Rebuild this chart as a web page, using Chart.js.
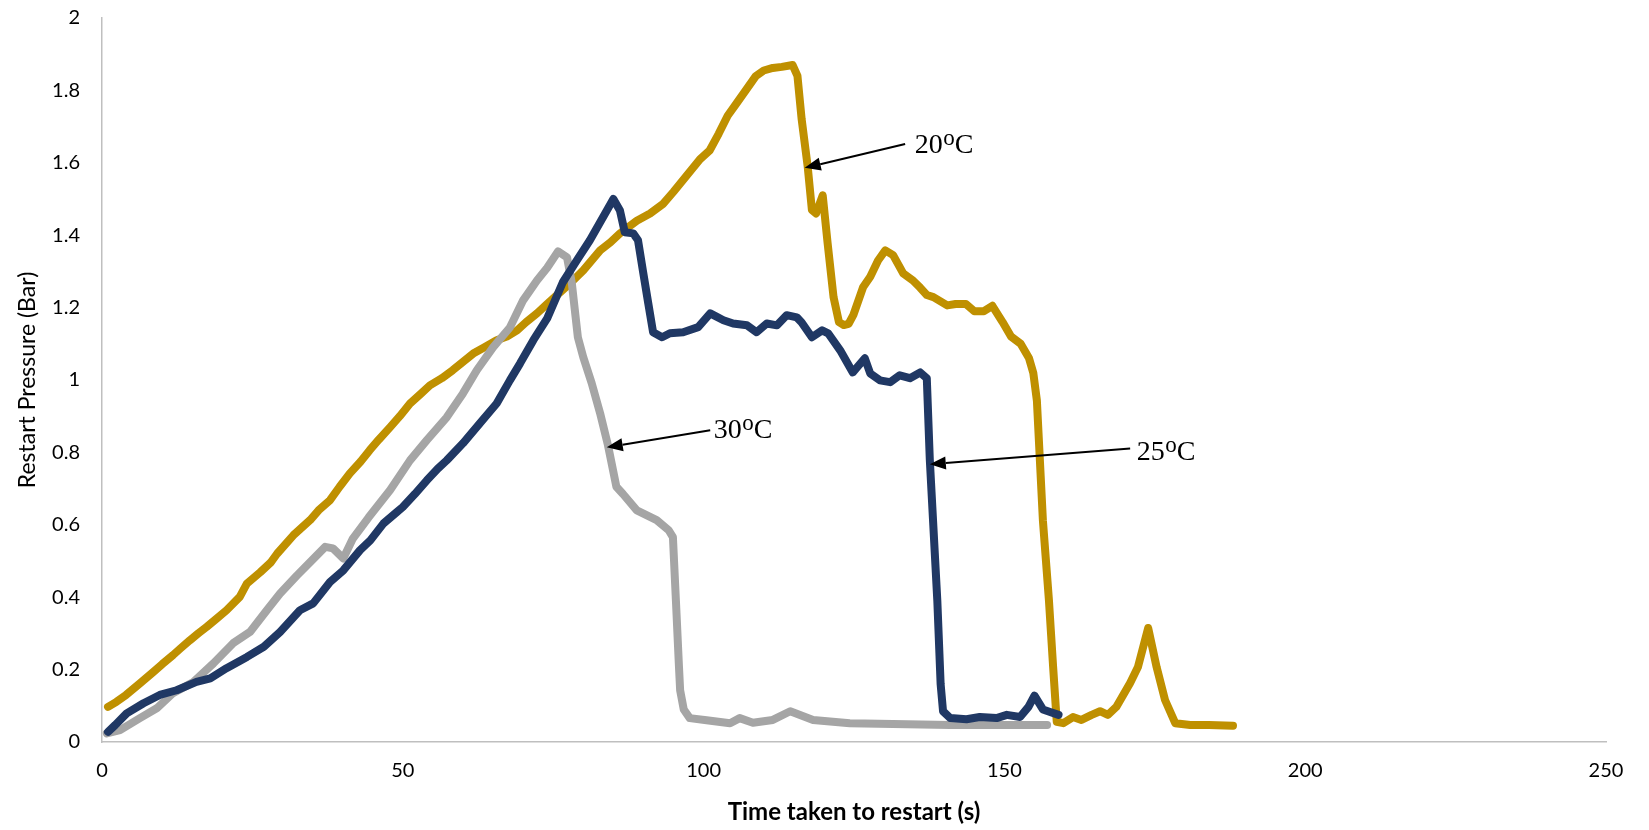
<!DOCTYPE html>
<html>
<head>
<meta charset="utf-8">
<title>Restart pressure vs time</title>
<script src="https://cdn.jsdelivr.net/npm/chart.js@4/dist/chart.umd.min.js"></script>
<style>
  html, body { margin: 0; padding: 0; background: #ffffff; }
  canvas { display: block; }
</style>
</head>
<body>
<canvas id="chart" width="1649" height="830"></canvas>
<script>
// Restart pressure traces (Bar) against time (s) for three temperatures.
const time20 = [1, 2.4, 4, 6.3, 8.5, 10, 11.8, 13, 14.6, 16,
  17.4, 19, 20.7, 22.9, 24.1, 26.3, 28, 29.1, 31.8, 34.6,
  36, 37.9, 39.5, 41.2, 43, 44.5, 46, 47.9, 49.5, 51.2,
  53, 54.5, 56.5, 58.3, 60, 61.7, 63.5, 65.6, 67.3, 69,
  70.5, 72.3, 74, 75.6, 78, 80, 82.8, 84.5, 86.1, 88.9,
  91.1, 93.3, 95, 97.2, 99.4, 101, 102.5, 104, 105.5, 107,
  108.7, 110, 111.5, 113, 114.8, 115.6, 116.3, 117.3, 118, 118.7,
  119.8, 120.6, 121.6, 122.5, 123.3, 124.1, 124.9, 126.5, 127.7, 129,
  130.2, 131.5, 133.2, 134.8, 136, 137.1, 138.2, 140.5, 141.9, 143.6,
  145, 146.6, 148, 149.7, 151.1, 152.7, 154.1, 154.8, 155.4, 156.4,
  157.4, 158.1, 158.7, 159.8, 161.4, 162.8, 164.5, 165.9, 167.2, 168.6,
  170.9, 172.2, 173.9, 175.3, 176.7, 178.4, 180.9, 184, 188];
const pressure20 = [0.097, 0.111, 0.13, 0.162, 0.193, 0.215, 0.24, 0.258, 0.281, 0.3,
  0.318, 0.34, 0.364, 0.401, 0.438, 0.469, 0.495, 0.52, 0.571, 0.613,
  0.64, 0.668, 0.705, 0.742, 0.775, 0.806, 0.835, 0.87, 0.9, 0.935,
  0.962, 0.985, 1.005, 1.027, 1.05, 1.073, 1.09, 1.11, 1.12, 1.137,
  1.16, 1.184, 1.21, 1.234, 1.27, 1.303, 1.358, 1.38, 1.405, 1.44,
  1.46, 1.487, 1.52, 1.565, 1.61, 1.634, 1.68, 1.73, 1.765, 1.8,
  1.84, 1.855, 1.862, 1.865, 1.87, 1.84, 1.72, 1.59, 1.47, 1.46,
  1.51, 1.38, 1.229, 1.16, 1.152, 1.155, 1.18, 1.256, 1.285, 1.33,
  1.358, 1.345, 1.294, 1.275, 1.255, 1.235, 1.229, 1.206, 1.21, 1.21,
  1.19, 1.19, 1.205, 1.16, 1.12, 1.1, 1.06, 1.02, 0.943, 0.612,
  0.392, 0.207, 0.056, 0.052, 0.069, 0.061, 0.075, 0.085, 0.075, 0.097,
  0.163, 0.207, 0.315, 0.207, 0.116, 0.052, 0.047, 0.047, 0.045];

const time25 = [1, 2.2, 4.1, 6.9, 9.6, 12.4, 15.7, 18, 20.7, 24.1,
  26.9, 29.6, 32.9, 35.1, 37.9, 40.1, 42.9, 44.6, 46.8, 49,
  50, 52, 54, 55.8, 57.3, 60, 62.8, 65.6, 67.8, 69.5,
  71.7, 74, 76.6, 78.9, 81.1, 83.3, 85, 86.1, 86.9, 88.3,
  89.1, 89.9, 90.8, 91.6, 93.1, 94.4, 96.6, 99.1, 101.1, 103.3,
  104.9, 107.2, 108.8, 110.5, 112.2, 113.8, 115.5, 116.3, 118, 119.7,
  120.7, 122.7, 124.8, 126.8, 127.7, 129.3, 131, 132.6, 134.3, 136,
  137.1, 137.6, 138.85, 139.4, 139.8, 141, 143.7, 145.9, 148.7, 150.4,
  152.6, 154, 155, 156.4, 157.6, 159];
const pressure25 = [0.028, 0.047, 0.079, 0.107, 0.13, 0.143, 0.166, 0.176, 0.204, 0.235,
  0.263, 0.304, 0.364, 0.383, 0.442, 0.474, 0.53, 0.557, 0.604, 0.635,
  0.649, 0.685, 0.723, 0.755, 0.778, 0.825, 0.88, 0.935, 0.999, 1.046,
  1.11, 1.17, 1.27, 1.33, 1.386, 1.45, 1.5, 1.468, 1.408, 1.405,
  1.386, 1.303, 1.212, 1.132, 1.118, 1.129, 1.132, 1.146, 1.184, 1.165,
  1.156, 1.151, 1.132, 1.156, 1.151, 1.179, 1.173, 1.159, 1.118, 1.137,
  1.129, 1.082, 1.021, 1.06, 1.018, 0.999, 0.994, 1.013, 1.005, 1.021,
  1.005, 0.78, 0.39, 0.16, 0.085, 0.066, 0.063, 0.069, 0.066, 0.075,
  0.069, 0.097, 0.128, 0.09, 0.083, 0.075];

const time30 = [0.8, 3, 6.3, 9.1, 11.8, 15.2, 18.5, 21.8, 24.6, 27.4,
  29.6, 32.4, 34.6, 37.1, 38.4, 40.1, 41.7, 44.3, 47.9, 51.2,
  54, 57.3, 60, 62.3, 65, 67.8, 70, 72.3, 74, 75.8,
  77.3, 78.1, 79.1, 80, 81.4, 82.8, 84.1, 85.5, 86.6, 88.9,
  92.2, 94.2, 94.9, 95.4, 95.9, 96.1, 96.7, 97.7, 100.5, 104.4,
  106, 108.2, 111.5, 114.4, 118.2, 124.3, 141, 157.1];
const pressure30 = [0.024, 0.033, 0.066, 0.093, 0.135, 0.166, 0.217, 0.273, 0.304, 0.364,
  0.41, 0.46, 0.497, 0.539, 0.535, 0.507, 0.562, 0.62, 0.696, 0.778,
  0.834, 0.897, 0.963, 1.027, 1.09, 1.145, 1.22, 1.275, 1.31, 1.355,
  1.339, 1.267, 1.118, 1.063, 0.991, 0.908, 0.82, 0.705, 0.685, 0.64,
  0.613, 0.585, 0.566, 0.39, 0.21, 0.143, 0.09, 0.066, 0.06, 0.052,
  0.066, 0.053, 0.061, 0.085, 0.061, 0.052, 0.047, 0.047];

const seriesNames = ['20ºC', '25ºC', '30ºC'];
const xTicks = { min: 0, max: 250, step: 50 };
const yTicks = { min: 0, max: 2, step: 0.2 };

const toPoints = (ts, ps) => ts.map((t, i) => ({ x: t, y: ps[i] }));

// Callout arrows with their labels, placed in axis units (time, pressure).
const callouts = [
  { text: '20ºC', tail: [133.5, 1.652], tip: [116.8, 1.586], at: [135.1, 1.628] },
  { text: '30ºC', tail: [101.1, 0.861], tip: [83.9, 0.814], at: [101.7, 0.839] },
  { text: '25ºC', tail: [170.9, 0.811], tip: [137.6, 0.767], at: [172.0, 0.778] }
];

const calloutPlugin = {
  id: 'callouts',
  afterDatasetsDraw(chart) {
    const { ctx, scales: { x, y } } = chart;
    ctx.save();
    ctx.strokeStyle = '#000';
    ctx.fillStyle = '#000';
    for (const c of callouts) {
      const x1 = x.getPixelForValue(c.tail[0]), y1 = y.getPixelForValue(c.tail[1]);
      const x2 = x.getPixelForValue(c.tip[0]), y2 = y.getPixelForValue(c.tip[1]);
      const ang = Math.atan2(y2 - y1, x2 - x1);
      const head = 16, half = 6.5;
      const bx = x2 - head * Math.cos(ang), by = y2 - head * Math.sin(ang);
      ctx.lineWidth = 2;
      ctx.beginPath();
      ctx.moveTo(x1, y1);
      ctx.lineTo(bx, by);
      ctx.stroke();
      ctx.beginPath();
      ctx.moveTo(x2, y2);
      ctx.lineTo(bx + half * Math.sin(ang), by - half * Math.cos(ang));
      ctx.lineTo(bx - half * Math.sin(ang), by + half * Math.cos(ang));
      ctx.closePath();
      ctx.fill();

      // label: number, raised "o", then "C"
      let tx = x.getPixelForValue(c.at[0]);
      const ty = y.getPixelForValue(c.at[1]);
      const [num, unit] = c.text.split('º');
      ctx.textAlign = 'left';
      ctx.textBaseline = 'alphabetic';
      ctx.font = '28px "Liberation Serif", "Times New Roman", serif';
      ctx.fillText(num, tx, ty);
      tx += ctx.measureText(num).width;
      ctx.font = '23px "Liberation Serif", "Times New Roman", serif';
      ctx.fillText('o', tx + 0.5, ty - 8);
      tx += ctx.measureText('o').width + 0.5;
      ctx.font = '28px "Liberation Serif", "Times New Roman", serif';
      ctx.fillText(unit, tx, ty);
    }
    ctx.restore();
  }
};

const lineStyle = (color) => ({
  borderColor: color,
  backgroundColor: color,
  borderWidth: 8,
  pointRadius: 0,
  pointHoverRadius: 0,
  tension: 0,
  fill: false,
  borderCapStyle: 'round',
  borderJoinStyle: 'round'
});

Chart.defaults.font.family = 'Lato, "Noto Sans", sans-serif';
Chart.defaults.color = '#000';

new Chart(document.getElementById('chart'), {
  type: 'line',
  data: {
    datasets: [
      { label: seriesNames[1], data: toPoints(time25, pressure25), order: 0, ...lineStyle('#203864') },
      { label: seriesNames[2], data: toPoints(time30, pressure30), order: 1, ...lineStyle('#A5A5A5') },
      { label: seriesNames[0], data: toPoints(time20, pressure20), order: 2, ...lineStyle('#BF9000') }
    ]
  },
  options: {
    responsive: false,
    animation: false,
    events: [],
    layout: { padding: { top: 18, right: 43, bottom: 0, left: 0 } },
    plugins: {
      legend: { display: false },
      tooltip: { enabled: false }
    },
    scales: {
      x: {
        type: 'linear',
        min: xTicks.min,
        max: xTicks.max,
        grid: { display: false, drawTicks: false },
        border: { display: true, color: '#BFBFBF', width: 1.5 },
        ticks: { stepSize: xTicks.step, padding: 17, font: { size: 20 }, color: '#000' },
        title: {
          display: true,
          text: 'Time taken to restart (s)',
          font: { size: 24, weight: 'bold' },
          color: '#000',
          padding: { top: 0, bottom: 3 }
        },
        afterFit(scale) { scale.height = 88; }
      },
      y: {
        min: yTicks.min,
        max: yTicks.max,
        grid: { display: false, drawTicks: false },
        border: { display: true, color: '#BFBFBF', width: 1.5 },
        ticks: {
          stepSize: yTicks.step,
          padding: 22,
          font: { size: 20 },
          color: '#000',
          callback: (v) => String(Number(v.toFixed(1)))
        },
        title: {
          display: true,
          text: 'Restart Pressure (Bar)',
          font: { size: 23 },
          color: '#000',
          padding: { top: 14, bottom: 0 }
        },
        afterFit(scale) {
          scale.width = 102;
          scale.paddingTop = 0;
          scale.paddingBottom = 0;
        }
      }
    }
  },
  plugins: [calloutPlugin]
});
</script>
</body>
</html>
